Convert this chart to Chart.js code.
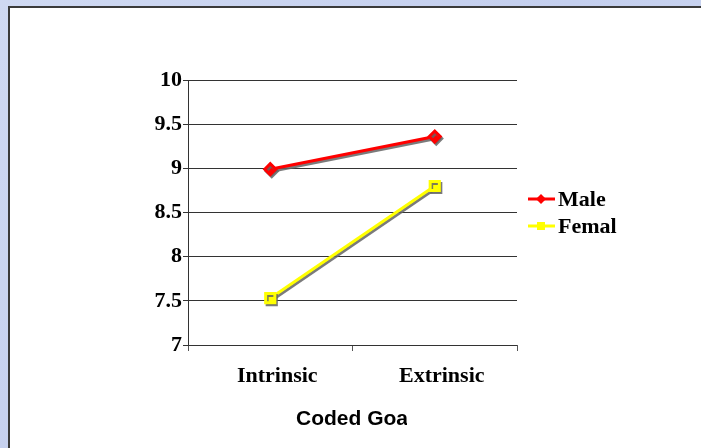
<!DOCTYPE html>
<html>
<head>
<meta charset="utf-8">
<script src="https://cdn.jsdelivr.net/npm/chart.js@4.4.0/dist/chart.umd.min.js"></script>
<style>
  html, body { margin: 0; padding: 0; }
  body {
    width: 701px; height: 448px; overflow: hidden;
    background: #c9d5ef;
    background-image: linear-gradient(135deg, #cfd9f2 0%, #c4cfee 50%, #d2dcf3 100%);
    position: relative;
  }
  .panel {
    position: absolute; left: 8px; top: 6px; width: 700px; height: 450px;
    background: #fff; border-left: 2px solid #3a3a3a; border-top: 2px solid #3a3a3a;
  }
  #chart { position: absolute; left: 0; top: 0; }
</style>
</head>
<body>
<div class="panel"></div>
<canvas id="chart" width="701" height="448"></canvas>
<script>
// Dados do gráfico
const categorias = ['Intrinsic', 'Extrinsic'];
const masculino = [8.99, 9.36];
const feminino = [7.53, 8.80];
const rotulos = ['Male', 'Female'];
const tituloEixoX = 'Coded Goal';

// Sombra cinza atrás das linhas
const sombraPlugin = {
    id: 'sombra',
    beforeDatasetsDraw(chart) {
        const ctx = chart.ctx;
        ctx.save();
        ctx.shadowColor = 'rgba(100,100,100,0.85)';
        ctx.shadowOffsetX = 1.5;
        ctx.shadowOffsetY = 2;
        ctx.shadowBlur = 0;
    },
    afterDatasetsDraw(chart) {
        chart.ctx.restore();
    }
};

// Legenda e título do eixo cortados como no original
const extrasPlugin = {
    id: 'extras',
    afterDraw(chart) {
        const ctx = chart.ctx;
        ctx.save();
        ctx.beginPath();
        ctx.rect(0, 0, 617, 448);
        ctx.clip();
        chart.data.datasets.forEach((ds, i) => {
            const y = 199 + i * 27;
            ctx.strokeStyle = ds.borderColor;
            ctx.lineWidth = 3;
            ctx.beginPath();
            ctx.moveTo(528, y);
            ctx.lineTo(555, y);
            ctx.stroke();
            ctx.fillStyle = ds.backgroundColor;
            if (ds.pointStyle === 'rectRot') {
                ctx.beginPath();
                ctx.moveTo(541, y - 5); ctx.lineTo(546, y); ctx.lineTo(541, y + 5); ctx.lineTo(536, y);
                ctx.closePath(); ctx.fill();
            } else {
                ctx.fillRect(537, y - 4, 8, 8);
            }
            ctx.fillStyle = '#000';
            ctx.font = 'bold 22px "Liberation Serif"';
            ctx.textBaseline = 'middle';
            ctx.textAlign = 'left';
            ctx.fillText(ds.label, 558, y + 1);
        });
        ctx.restore();

        ctx.save();
        ctx.beginPath();
        ctx.rect(0, 0, 407, 448);
        ctx.clip();
        ctx.fillStyle = '#000';
        ctx.font = 'bold 21px "Liberation Sans"';
        ctx.textBaseline = 'middle';
        ctx.textAlign = 'left';
        ctx.fillText(tituloEixoX, 296, 419);
        ctx.restore();
    }
};

new Chart(document.getElementById('chart'), {
    type: 'line',
    data: {
        labels: categorias,
        datasets: [
            { label: rotulos[0], data: masculino, borderColor: '#ff0000', backgroundColor: '#ff0000',
              borderWidth: 3, pointStyle: 'rectRot', pointRadius: 5.5, pointHoverRadius: 5.5 },
            { label: rotulos[1], data: feminino, borderColor: '#ffff00', backgroundColor: '#ffff00',
              borderWidth: 3, pointStyle: 'rect', pointRadius: 6.5, pointHoverRadius: 6.5 }
        ]
    },
    options: {
        responsive: false,
        animation: false,
        layout: { padding: { left: 0, right: 184, top: 80, bottom: 0 } },
        plugins: {
            legend: { display: false },
            tooltip: { enabled: false }
        },
        scales: {
            x: {
                offset: true,
                grid: { offset: true, drawOnChartArea: false, drawTicks: true, tickLength: 6, color: '#555' },
                border: { display: false },
                ticks: { color: '#000', padding: 12, labelOffset: 7,
                         font: { family: 'Liberation Serif', size: 22, weight: 'bold' } },
                afterFit: (s) => { s.height = 103; }
            },
            y: {
                min: 7, max: 10,
                grid: { color: '#333', lineWidth: 1, tickLength: 5 },
                border: { display: true, color: '#333' },
                ticks: { stepSize: 0.5, color: '#000', padding: 1,
                         font: { family: 'Liberation Serif', size: 22, weight: 'bold' },
                         callback: (v) => String(v) },
                afterFit: (s) => { s.width = 188; }
            }
        }
    },
    plugins: [sombraPlugin, extrasPlugin]
});
</script>
</body>
</html>
